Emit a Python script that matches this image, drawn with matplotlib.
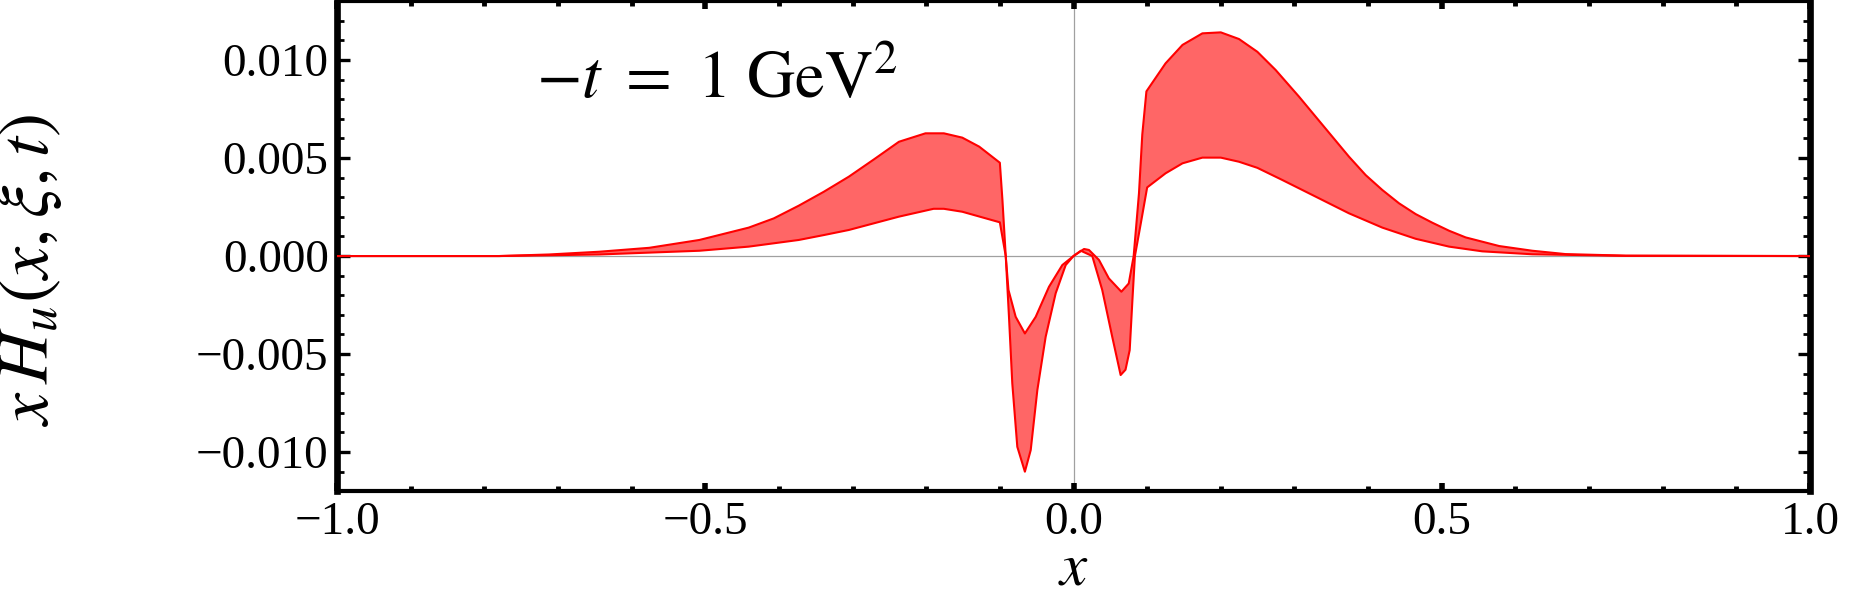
import numpy as np
import matplotlib
matplotlib.use("Agg")
import matplotlib.pyplot as plt
from matplotlib.ticker import FixedLocator, MultipleLocator

# band edges (y in units of 1e-3)
upper_x = [-1.0, -0.78, -0.712, -0.644, -0.576, -0.508, -0.441, -0.407, -0.373,
           -0.339, -0.305, -0.271, -0.237, -0.201, -0.176, -0.151, -0.128,
           -0.100, -0.0965, -0.092, -0.0883, -0.0785, -0.066, -0.0513, -0.0333,
           -0.0152, 0.0, 0.0143, 0.021, 0.0346, 0.048, 0.065, 0.075, 0.0817,
           0.0889, 0.0934, 0.099, 0.125, 0.148, 0.175, 0.200, 0.2247, 0.2496,
           0.2745, 0.3062, 0.329, 0.3514, 0.374, 0.3967, 0.4193, 0.442, 0.4646,
           0.4872, 0.51, 0.5325, 0.578, 0.623, 0.668, 0.75, 1.0]
upper_y = [0, 0, 0.08, 0.22, 0.42, 0.82, 1.45, 1.92, 2.57,
           3.28, 4.05, 4.93, 5.83, 6.26, 6.26, 6.04, 5.58,
           4.76, 2.86, 0, -1.73, -3.1, -3.95, -3.1, -1.57,
           -0.46, 0, 0.36, 0.31, -0.2, -1.14, -1.82, -1.4, 0,
           3.2, 6.2, 8.4, 9.83, 10.77, 11.36, 11.41, 11.07, 10.42,
           9.49, 8.13, 7.1, 6.09, 5.07, 4.13, 3.37, 2.69, 2.14,
           1.70, 1.29, 0.95, 0.51, 0.27, 0.10, 0.02, 0]

lower_x = [-1.0, -0.78, -0.644, -0.508, -0.441, -0.373, -0.339, -0.305, -0.271,
           -0.237, -0.19, -0.176, -0.151, -0.100, -0.092, -0.0876, -0.0831,
           -0.0763, -0.066, -0.0581, -0.0491, -0.0378, -0.0242, -0.0106, 0.0,
           0.010, 0.0255, 0.039, 0.0526, 0.064, 0.0706, 0.0763, 0.080, 0.0834,
           0.092, 0.100, 0.125, 0.148, 0.175, 0.200, 0.2247, 0.2496, 0.2835,
           0.3288, 0.374, 0.4193, 0.4646, 0.51, 0.555, 0.623, 0.75, 1.0]
lower_y = [0, 0, 0.08, 0.27, 0.48, 0.82, 1.07, 1.33, 1.67,
           2.01, 2.41, 2.41, 2.26, 1.72, 0, -3.1, -6.5,
           -9.73, -11.0, -9.9, -6.84, -4.12, -1.9, -0.46, 0,
           0.27, 0.0, -1.73, -4.12, -6.07, -5.8, -4.8, -2.24, 0,
           1.8, 3.5, 4.22, 4.73, 5.02, 5.02, 4.81, 4.50, 3.88,
           3.03, 2.18, 1.45, 0.88, 0.48, 0.24, 0.09, 0.01, 0]

x_ticks = [-1.0, -0.5, 0.0, 0.5, 1.0]
x_tick_labels = ["\u22121.0", "\u22120.5", "0.0", "0.5", "1.0"]
y_ticks = [-0.010, -0.005, 0.0, 0.005, 0.010]
y_tick_labels = ["\u22120.010", "\u22120.005", "0.000", "0.005", "0.010"]

plt.rcParams["font.family"] = ["Liberation Serif", "DejaVu Serif"]
plt.rcParams["mathtext.fontset"] = "stix"

ux = np.array(upper_x)
uy = np.array(upper_y) * 1e-3
lx = np.array(lower_x)
ly = np.array(lower_y) * 1e-3

fig = plt.figure(figsize=(18.6, 5.99), dpi=100)
ax = fig.add_axes([337 / 1860, 1 - 490.5 / 599, 1473 / 1860, 489.5 / 599])

# Mathematica-style axes through the origin
ax.axhline(0, color="#a0a0a0", lw=0.9, zorder=1)
ax.axvline(0, color="#a0a0a0", lw=0.9, zorder=1)

ax.fill(np.concatenate([ux, lx[::-1]]), np.concatenate([uy, ly[::-1]]),
        facecolor="#ff6666", edgecolor="none", zorder=2)
ax.plot(ux, uy, color="#ff0000", lw=1.5, zorder=3)
ax.plot(lx, ly, color="#ff0000", lw=1.5, zorder=3)

ax.set_xlim(-1.0, 1.0)
ax.set_ylim(-0.01196, 0.01301)

ax.xaxis.set_major_locator(FixedLocator(x_ticks))
ax.set_xticklabels(x_tick_labels)
ax.xaxis.set_minor_locator(MultipleLocator(0.1))
ax.yaxis.set_major_locator(FixedLocator(y_ticks))
ax.set_yticklabels(y_tick_labels)
ax.yaxis.set_minor_locator(MultipleLocator(0.001))

for side in ("left", "right"):
    ax.spines[side].set_linewidth(4.8)
for side in ("top", "bottom"):
    ax.spines[side].set_linewidth(3.0)

ax.tick_params(which="both", direction="in", top=True, right=True, color="black")
ax.tick_params(axis="x", which="major", length=6.0, width=4.0, pad=8, labelsize=34)
ax.tick_params(axis="x", which="minor", length=3.5, width=3.5)
ax.tick_params(axis="y", which="major", length=9.0, width=2.4, pad=6, labelsize=34)
ax.tick_params(axis="y", which="minor", length=5.2, width=2.0)

ax.set_xlabel(r"$x$", fontsize=44)
ax.xaxis.set_label_coords(0.5, -0.105)
ax.set_ylabel(r"$x\,H_u(x,\xi,t)$", fontsize=52)
ax.yaxis.set_label_coords(-0.185, 0.45)

ax.text(0.258, 0.802, r"$-t\ =\ 1\ \mathrm{GeV}^2$", transform=ax.transAxes,
        ha="center", va="baseline", fontsize=48)

fig.savefig("out.png", dpi=100)
